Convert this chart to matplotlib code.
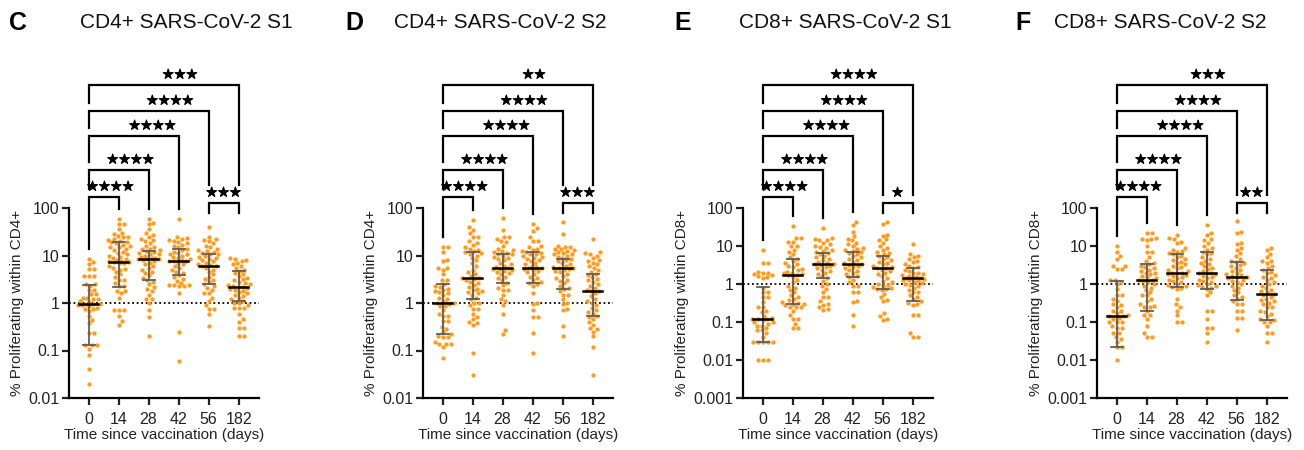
import numpy as np
import matplotlib
matplotlib.use("Agg")
import matplotlib.pyplot as plt
from matplotlib import transforms, patheffects

plt.rcParams['font.family'] = ['Liberation Sans', 'DejaVu Sans']

# categories and labels
DAYS = ["0", "14", "28", "42", "56", "182"]
LETTERS = ["C", "D", "E", "F"]
TITLES = ["CD4+ SARS-CoV-2 S1", "CD4+ SARS-CoV-2 S2", "CD8+ SARS-CoV-2 S1", "CD8+ SARS-CoV-2 S2"]
Y_LABELS = ["% Proliferating within CD4+", "% Proliferating within CD4+",
            "% Proliferating within CD8+", "% Proliferating within CD8+"]
Y_MIN = [0.01, 0.01, 0.001, 0.001]

# panel C - CD4+ S1
C_DAY0 = [8.3, 7.4, 6.5, 5.1, 5.1, 3.7, 3.7, 3.7, 2.5, 2.5, 2.3, 1.86, 1.86, 1.52, 1.52, 1.29, 1.29, 1.19, 1.19,
          1.1, 1.05, 0.97, 0.97, 0.95, 0.9, 0.9, 0.85, 0.8, 0.76, 0.76, 0.67, 0.53, 0.44, 0.38, 0.23, 0.23,
          0.13, 0.13, 0.13, 0.11, 0.08, 0.04, 0.02]
C_DAY14 = [58, 46, 46, 36, 30, 28, 26, 24, 24, 22, 21, 20, 19, 19, 18, 17, 16, 15, 15, 14, 13, 12, 11.5, 10.5,
           10, 9.5, 9, 8.5, 8, 7.5, 7.5, 7.3, 7.2, 7, 6.8, 6, 5.5, 5.2, 5, 4.5, 4, 3.6, 3.1, 3.1, 2.6, 2.3, 2.3,
           1.8, 1.8, 1.6, 1.3, 0.7, 0.7, 0.7, 0.53, 0.42, 0.35]
C_DAY28 = [60, 48, 45, 36, 30, 27, 25, 22, 21, 20, 18, 16, 15, 14, 13.5, 13, 12.5, 12, 11.5, 11, 10.5, 10, 9.5,
           9, 8.8, 8.5, 8.3, 8.3, 8, 7.5, 7, 6.5, 6, 5.5, 5, 4.6, 4.2, 3.8, 3.4, 3.1, 2.8, 2.5, 2.2, 2.0, 1.8,
           1.5, 1.2, 1.2, 1.0, 0.7, 0.5, 0.2]
C_DAY42 = [58, 24, 23, 22, 21, 20, 19, 18, 17, 16, 15, 14, 13, 12, 11.5, 11, 10.5, 10, 9.5, 9, 8.5, 8, 7.7,
           7.7, 7.5, 7, 6.5, 6, 5.5, 5, 4.6, 4.2, 3.8, 3.5, 3.2, 2.9, 2.6, 2.4, 2.4, 2.4, 2.3, 2.3, 1.6, 0.25, 0.06]
C_DAY56 = [40, 25, 22, 21, 20, 18, 16, 15, 14, 13, 12.5, 12, 11.5, 11, 10.5, 10, 9.5, 9, 8.5, 8, 7.5, 7, 6.5,
           6.2, 6, 6, 5.5, 5, 4.5, 4, 3.6, 3.2, 3, 2.8, 2.5, 2.3, 2.1, 1.9, 1.6, 1.6, 1.3, 1.1, 0.9, 0.75, 0.75,
           0.6, 0.33]
C_DAY182 = [9, 8.5, 8, 7.5, 7, 6.5, 6, 5.5, 5, 4.7, 4.3, 4, 3.7, 3.4, 3.2, 3, 2.8, 2.6, 2.5, 2.4, 2.3, 2.2, 2.2,
            2.1, 2, 1.9, 1.8, 1.7, 1.6, 1.5, 1.4, 1.3, 1.2, 1.1, 1.0, 1.0, 0.9, 0.8, 0.8, 0.8, 0.6, 0.45, 0.4, 0.3,
            0.3, 0.2, 0.2]
C_MEDIAN = [0.95, 7.3, 8.3, 7.7, 6.0, 2.2]
C_LOW = [0.13, 2.2, 3.1, 3.8, 2.5, 1.1]
C_HIGH = [2.4, 19, 12.5, 14, 11, 4.7]
C_STARS = ["****", "****", "****", "****", "***", "***"]

# panel D - CD4+ S2
D_DAY0 = [15, 15, 12, 8, 7.5, 5.5, 5.5, 5, 4, 3.1, 3.1, 2.5, 2.3, 2.2, 2, 1.9, 1.8, 1.7, 1.6, 1.5, 1.3, 1.2,
          1.1, 1.0, 1.0, 0.95, 0.85, 0.85, 0.7, 0.6, 0.53, 0.53, 0.41, 0.41, 0.32, 0.28, 0.24, 0.22, 0.2, 0.19,
          0.19, 0.15, 0.14, 0.14, 0.14, 0.12, 0.07]
D_DAY14 = [55, 40, 35, 30, 25, 25, 20, 18, 17, 15, 14, 13, 12.5, 12, 11.5, 11, 10, 9, 8, 7, 6, 5, 4.5, 4, 3.7,
           3.4, 3.3, 3.2, 3, 2.8, 2.6, 2.4, 2.2, 2, 1.9, 1.8, 1.7, 1.6, 1.5, 1.3, 1.2, 1.0, 1.0, 0.9, 0.75,
           0.75, 0.6, 0.5, 0.45, 0.4, 0.38, 0.35, 0.09, 0.03]
D_DAY28 = [62, 35, 25, 24, 22, 20, 19, 16, 14, 13, 12.5, 12, 11.5, 11, 10.5, 10, 9.5, 9, 8.5, 8, 7, 6.5, 6,
           5.6, 5.4, 5.3, 5.2, 5, 4.8, 4.5, 4.2, 4, 3.6, 3.3, 3, 2.7, 2.4, 2.1, 1.9, 1.9, 1.5, 1.2, 1.1, 0.9,
           0.6, 0.27, 0.22]
D_DAY42 = [45, 38, 33, 24, 20, 20, 16, 15, 14, 13, 12.5, 12, 11.5, 11, 10.5, 10, 9.5, 9, 8.5, 8, 7.5, 7, 6.5,
           6, 5.6, 5.5, 5.4, 5.2, 5, 4.7, 4.4, 4, 3.6, 3.3, 3, 2.8, 2.6, 2.5, 2.3, 1.6, 1.0, 0.95, 0.7, 0.5, 0.5,
           0.23, 0.09]
D_DAY56 = [50, 28, 16, 15, 15, 14, 14, 13, 12.5, 12, 11.5, 11, 10.5, 10, 9.5, 9, 8.5, 8, 7.5, 7, 6.5, 6, 5.8,
           5.5, 5.5, 5.2, 5, 4.7, 4.4, 4, 3.7, 3.4, 3.1, 2.9, 2.6, 2.3, 2.1, 2, 1.8, 1.5, 1.5, 1.2, 1.0, 0.95,
           0.75, 0.7, 0.33, 0.2]
D_DAY182 = [22, 12, 11.5, 11, 10, 9, 8, 7.5, 7, 6.5, 6, 5.5, 5, 4.5, 4.1, 3.8, 3.5, 3.2, 3, 2.8, 2.5, 2.3, 2.1,
            1.9, 1.8, 1.8, 1.6, 1.4, 1.2, 1.1, 1.0, 0.9, 0.8, 0.7, 0.65, 0.6, 0.53, 0.5, 0.45, 0.4, 0.35, 0.3,
            0.28, 0.25, 0.2, 0.12, 0.03]
D_MEDIAN = [1.0, 3.3, 5.4, 5.5, 5.5, 1.8]
D_LOW = [0.22, 1.2, 2.7, 2.6, 2.0, 0.53]
D_HIGH = [2.5, 12, 11, 12, 8.5, 4.1]
D_STARS = ["****", "****", "****", "****", "**", "***"]

# panel E - CD8+ S1
E_DAY0 = [8, 3.5, 3.5, 2.1, 2.0, 1.9, 1.8, 1.7, 1.6, 1.5, 1.4, 0.8, 0.6, 0.6, 0.45, 0.45, 0.33, 0.25, 0.25,
          0.2, 0.18, 0.14, 0.13, 0.12, 0.12, 0.12, 0.11, 0.1, 0.1, 0.09, 0.08, 0.08, 0.07, 0.06, 0.06, 0.05,
          0.04, 0.03, 0.03, 0.03, 0.03, 0.03, 0.01, 0.01, 0.01]
E_DAY14 = [33, 16, 16, 13, 13, 10, 10, 8, 7, 6, 5, 4.5, 4, 3.6, 3.3, 3, 2.8, 2.5, 2.3, 2.1, 2, 1.9, 1.8, 1.75,
           1.7, 1.5, 1.3, 1.1, 0.9, 0.8, 0.7, 0.6, 0.5, 0.45, 0.4, 0.37, 0.34, 0.32, 0.3, 0.3, 0.28, 0.25, 0.25,
           0.25, 0.2, 0.15, 0.12, 0.12, 0.09, 0.07, 0.07]
E_DAY28 = [30, 16, 15, 14, 14, 12, 11, 10, 9.5, 9, 8, 7.5, 7, 6.5, 6, 5.5, 5, 4.6, 4.2, 3.9, 3.6, 3.4, 3.3,
           3.2, 3, 2.8, 2.6, 2.4, 2.2, 2, 1.8, 1.6, 1.4, 1.2, 1.0, 0.9, 0.75, 0.6, 0.45, 0.45, 0.35, 0.3, 0.28,
           0.25, 0.22, 0.21]
E_DAY42 = [43, 35, 24, 18, 15, 14, 12, 11, 10, 9, 8.5, 8, 7.5, 7, 6.5, 6, 5.5, 5, 4.6, 4.2, 3.9, 3.6, 3.3,
           3.2, 3, 2.8, 2.6, 2.4, 2.2, 2, 1.8, 1.6, 1.5, 1.3, 1.1, 0.9, 0.9, 0.6, 0.6, 0.35, 0.33, 0.15, 0.08]
E_DAY56 = [42, 38, 20, 18, 15, 14, 12, 10, 9, 8, 7, 6.5, 6, 5.5, 5, 4.5, 4.2, 3.9, 3.6, 3.3, 3, 2.8, 2.7, 2.6,
           2.4, 2.2, 2, 1.8, 1.6, 1.4, 1.2, 1.1, 1.0, 0.95, 0.9, 0.85, 0.8, 0.75, 0.75, 0.7, 0.55, 0.45, 0.38,
           0.35, 0.17, 0.14, 0.12, 0.11]
E_DAY182 = [11, 6, 5.5, 5, 4.5, 4, 3.7, 3.4, 3, 2.8, 2.6, 2.4, 2.2, 2, 1.9, 1.8, 1.7, 1.6, 1.5, 1.45, 1.4, 1.4,
            1.35, 1.3, 1.25, 1.2, 1.1, 1.05, 1.0, 0.95, 0.9, 0.8, 0.7, 0.6, 0.6, 0.5, 0.45, 0.4, 0.35, 0.32,
            0.3, 0.28, 0.15, 0.15, 0.05, 0.04, 0.04]
E_MEDIAN = [0.12, 1.75, 3.3, 3.3, 2.7, 1.4]
E_LOW = [0.03, 0.3, 1.4, 1.5, 0.75, 0.35]
E_HIGH = [0.85, 4.5, 6.5, 7, 5.5, 2.6]
E_STARS = ["****", "****", "****", "****", "****", "*"]

# panel F - CD8+ S2
F_DAY0 = [10, 7, 5.5, 4.5, 3, 3, 2.5, 2.5, 1.3, 1.3, 1.1, 1.0, 0.75, 0.5, 0.5, 0.4, 0.35, 0.3, 0.28, 0.25,
          0.2, 0.2, 0.17, 0.15, 0.14, 0.14, 0.13, 0.12, 0.1, 0.1, 0.1, 0.08, 0.07, 0.07, 0.05, 0.05, 0.04,
          0.035, 0.03, 0.022, 0.022, 0.01]
F_DAY14 = [22, 22, 16, 15, 15, 14, 10, 7, 7, 5, 4, 3.5, 3.3, 3, 2.8, 2.6, 2.4, 2.2, 2, 1.9, 1.8, 1.6, 1.5,
           1.4, 1.3, 1.3, 1.2, 1.1, 1.0, 0.9, 0.8, 0.7, 0.6, 0.5, 0.5, 0.4, 0.35, 0.3, 0.27, 0.25, 0.25, 0.2,
           0.15, 0.15, 0.12, 0.08, 0.05, 0.04, 0.04]
F_DAY28 = [20, 16, 15, 13, 12, 9, 8, 7.5, 7, 6.5, 6, 5.5, 5, 4.6, 4.2, 3.9, 3.6, 3.3, 3, 2.8, 2.6, 2.4, 2.2,
           2.0, 2.0, 1.9, 1.8, 1.7, 1.6, 1.5, 1.4, 1.3, 1.2, 1.1, 1.0, 0.95, 0.9, 0.85, 0.8, 0.75, 0.4, 0.3,
           0.25, 0.2, 0.15, 0.1, 0.1]
F_DAY42 = [35, 22, 20, 15, 14, 12, 10, 9, 8, 7, 6.5, 6, 5, 4.5, 4, 3.6, 3.3, 3, 2.7, 2.5, 2.2, 2.0, 1.9, 1.9,
           1.8, 1.6, 1.5, 1.4, 1.3, 1.2, 1.1, 1.0, 0.95, 0.9, 0.85, 0.8, 0.75, 0.6, 0.5, 0.2, 0.2, 0.12, 0.07,
           0.07, 0.05, 0.03]
F_DAY56 = [45, 24, 22, 12, 11, 9, 8, 6.5, 5.5, 4.5, 4, 3.8, 3.5, 3.2, 3, 2.7, 2.4, 2.2, 2, 1.8, 1.7, 1.6, 1.5,
           1.5, 1.4, 1.3, 1.2, 1.1, 1.0, 0.9, 0.8, 0.7, 0.6, 0.5, 0.45, 0.4, 0.35, 0.3, 0.3, 0.2, 0.2, 0.13,
           0.13, 0.06]
F_DAY182 = [9, 8, 6, 5, 4, 4, 3.5, 3, 2.6, 2.3, 2.1, 1.9, 1.7, 1.5, 1.4, 1.3, 1.1, 1.0, 0.9, 0.8, 0.7, 0.65,
            0.6, 0.55, 0.5, 0.45, 0.4, 0.38, 0.35, 0.32, 0.3, 0.25, 0.25, 0.2, 0.18, 0.16, 0.14, 0.12, 0.11, 0.1,
            0.1, 0.08, 0.05, 0.05, 0.03]
F_MEDIAN = [0.14, 1.3, 2.0, 1.9, 1.5, 0.55]
F_LOW = [0.022, 0.2, 0.85, 0.75, 0.38, 0.11]
F_HIGH = [1.2, 3.3, 6.2, 7, 3.8, 2.3]
F_STARS = ["****", "****", "****", "****", "***", "**"]

# comparisons drawn as brackets (index pairs into DAYS)
BRACKETS = [(0, 1), (0, 2), (0, 3), (0, 4), (0, 5), (4, 5)]

# layout / style (pixels)
FIG_W, FIG_H = 1304, 450
AX_LEFT = [69, 423, 743, 1097]
AX_TOP = 208
AX_W, AX_H = 190, 190
XLIM = (-0.65, 5.68)
LETTER_X = [9, 345, 674, 1015]
TITLE_X = [186, 500, 845, 1160]
BRACKET_LEVEL = [11, 38, 72, 97, 123, 5]    # px above the axes top
STAR_FRAC = [0.73, 0.7, 0.71, 0.68, 0.61, 0.5]
SHORT_LEG = [False, False, False, False, False, True]
STAR_W = 9.75                               # px per star glyph
SWARM_HALF = 11                             # max sideways spread, px
ORANGE = "#FF9B21"
GREY = "#5e5e5e"


def swarm_offsets(y_px, diam=4.6, step=0.5):
    """simple beeswarm: push each point sideways until it no longer overlaps,
    inside +-SWARM_HALF px; if the row is full take the least crowded spot"""
    order = np.argsort(y_px)
    cands = [0.0]
    k = 1
    while k * step <= SWARM_HALF:
        cands += [k * step, -k * step]
        k += 1
    placed = []
    xs = np.zeros(len(y_px))
    for idx in order:
        y = y_px[idx]
        best_c, best_d = 0.0, -1.0
        for c in cands:
            d = min([np.hypot(px - c, py - y) for px, py in placed] or [99.0])
            if d >= diam:
                best_c = c
                break
            if d > best_d:
                best_c, best_d = c, d
        xs[idx] = best_c
        placed.append((best_c, y))
    return xs


def draw_panel(ax, groups, med, low, high, stars, ymin):
    ndec = np.log10(100) - np.log10(ymin)
    px_per_unit = AX_W / (XLIM[1] - XLIM[0])

    ax.set_yscale("log")
    ax.set_ylim(ymin, 100)
    ax.set_xlim(*XLIM)
    ax.axhline(1, color="black", ls=(0, (1, 1.5)), lw=1.3, zorder=1)

    col_top = []  # px of the column maximum relative to the axes top
    for i, vals in enumerate(groups):
        vals = np.asarray(vals, dtype=float)
        y_px = (np.log10(vals) - np.log10(ymin)) / ndec * AX_H
        dx = swarm_offsets(y_px) / px_per_unit
        ax.plot(i + dx, vals, "o", ms=3.1, color=ORANGE, mec="none", zorder=2, clip_on=False)
        col_top.append(y_px.max() - AX_H)

        ax.plot([i, i], [low[i], high[i]], color=GREY, lw=1.3, zorder=3)
        for cap in (low[i], high[i]):
            ax.plot([i - 0.2, i + 0.2], [cap, cap], color=GREY, lw=1.3, zorder=3)
        ax.plot([i - 0.33, i + 0.33], [med[i], med[i]], color="black", lw=1.8, zorder=4)

    # significance brackets above the plot
    tr = transforms.blended_transform_factory(ax.transData, ax.transAxes)
    to_frac = lambda p: 1 + p / AX_H
    bold = [patheffects.withStroke(linewidth=0.7, foreground="black")]

    def leg_bottom(k, col):
        h = BRACKET_LEVEL[k]
        if SHORT_LEG[k]:
            return h - 10
        lower = None
        for m, (a, b) in enumerate(BRACKETS):
            if m != k and BRACKET_LEVEL[m] < h and a <= col <= b:
                if lower is None or BRACKET_LEVEL[m] > BRACKET_LEVEL[lower]:
                    lower = m
        if lower is None:
            return col_top[col] + 10
        a, b = BRACKETS[lower]
        xs = a + STAR_FRAC[lower] * (b - a)
        hw = len(stars[lower]) * STAR_W / 2 / px_per_unit
        gap = 18 if abs(col - xs) < hw + 0.05 else 8
        return BRACKET_LEVEL[lower] + gap

    for k, (a, b) in enumerate(BRACKETS):
        h = BRACKET_LEVEL[k]
        ya, yb = leg_bottom(k, a), leg_bottom(k, b)
        ax.plot([a, a, b, b], [to_frac(ya), to_frac(h), to_frac(h), to_frac(yb)],
                color="black", lw=1.6, transform=tr, clip_on=False, solid_joinstyle="miter")
        ax.text(a + STAR_FRAC[k] * (b - a), to_frac(h + 10), "\u2605" * len(stars[k]),
                transform=tr, ha="center", va="center", fontsize=9.5,
                family=["DejaVu Sans"], clip_on=False, path_effects=bold)

    ticks = [10.0 ** e for e in range(int(round(np.log10(ymin))), 3)]
    ax.set_yticks(ticks)
    ax.set_yticklabels([f"{t:g}" for t in ticks])
    ax.minorticks_off()
    ax.set_xticks(range(len(DAYS)))
    ax.set_xticklabels(DAYS)

    for side in ("top", "right"):
        ax.spines[side].set_visible(False)
    for side in ("left", "bottom"):
        ax.spines[side].set_linewidth(1.6)
    ax.tick_params(direction="out", length=5, width=1.6, labelsize=11.5, pad=2, colors="#222222")
    ax.tick_params(axis="x", pad=5)


def main():
    fig = plt.figure(figsize=(FIG_W / 100, FIG_H / 100), dpi=100)

    panels = [
        ([C_DAY0, C_DAY14, C_DAY28, C_DAY42, C_DAY56, C_DAY182], C_MEDIAN, C_LOW, C_HIGH, C_STARS),
        ([D_DAY0, D_DAY14, D_DAY28, D_DAY42, D_DAY56, D_DAY182], D_MEDIAN, D_LOW, D_HIGH, D_STARS),
        ([E_DAY0, E_DAY14, E_DAY28, E_DAY42, E_DAY56, E_DAY182], E_MEDIAN, E_LOW, E_HIGH, E_STARS),
        ([F_DAY0, F_DAY14, F_DAY28, F_DAY42, F_DAY56, F_DAY182], F_MEDIAN, F_LOW, F_HIGH, F_STARS),
    ]

    for p, (groups, med, low, high, stars) in enumerate(panels):
        rect = [AX_LEFT[p] / FIG_W, 1 - (AX_TOP + AX_H) / FIG_H, AX_W / FIG_W, AX_H / FIG_H]
        ax = fig.add_axes(rect)
        draw_panel(ax, groups, med, low, high, stars, Y_MIN[p])
        ax.set_ylabel(Y_LABELS[p], fontsize=11, labelpad=3, color="#222222")
        ax.set_xlabel("Time since vaccination (days)", fontsize=11, labelpad=1, color="#222222")

        fig.text(LETTER_X[p] / FIG_W, 1 - 23 / FIG_H, LETTERS[p], fontsize=18, fontweight="heavy",
                 ha="left", va="center")
        fig.text(TITLE_X[p] / FIG_W, 1 - 23 / FIG_H, TITLES[p], fontsize=15, ha="center", va="center",
                 color="#111111")

    fig.savefig("out.png", dpi=100)
    plt.close(fig)


if __name__ == "__main__":
    main()
